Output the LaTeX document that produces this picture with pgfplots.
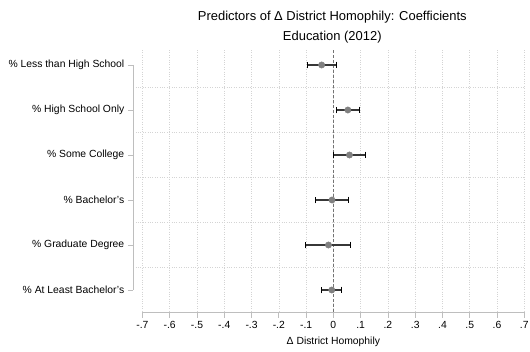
\documentclass[border=0pt]{standalone}
\usepackage{pgfplots}
\usepackage{pgfplotstable}
\pgfplotsset{compat=1.18}
\usepackage{fontspec}
\setmainfont{Liberation Sans}

\definecolor{axisgray}{RGB}{190,190,190}
\definecolor{gridgray}{RGB}{212,212,212}
\definecolor{markgray}{RGB}{128,128,128}
\definecolor{bargray}{RGB}{55,55,55}

% coefficient estimates with 95% confidence bounds (row 0 = top)
\pgfplotstableread{
row  est     lo      hi
0   -0.043  -0.094   0.010
1    0.053   0.012   0.096
2    0.059  -0.001   0.118
3   -0.005  -0.066   0.056
4   -0.018  -0.103   0.063
5   -0.006  -0.043   0.031
}\coefs

\pgfplotstablecreatecol[expr={\thisrow{hi}-\thisrow{est}}]{ep}{\coefs}
\pgfplotstablecreatecol[expr={\thisrow{est}-\thisrow{lo}}]{em}{\coefs}

\begin{document}
\begin{tikzpicture}[x=1bp,y=1bp]
\useasboundingbox (-133.3,-39) rectangle (396.7,312);
\begin{axis}[
  scale only axis,
  width=391bp, height=262bp,
  xmin=-0.7335, xmax=0.7,
  ymin=-0.333, ymax=5.489,
  y dir=reverse,
  axis line style={draw=none},
  xtick={-0.7,-0.6,...,0.71},
  xticklabels={-.7,-.6,-.5,-.4,-.3,-.2,-.1,0,.1,.2,.3,.4,.5,.6,.7},
  ytick={0,1,2,3,4,5},
  yticklabels={\% Less than High School,\% High School Only,\% Some College,\% Bachelor's,\% Graduate Degree,\% At Least Bachelor's},
  minor ytick={0.5,1.5,2.5,3.5,4.5},
  xmajorgrids, yminorgrids,
  grid style={gridgray, dash pattern=on 0.7pt off 1.7pt, line width=0.6pt},
  minor grid style={gridgray, dash pattern=on 0.7pt off 1.7pt, line width=0.6pt},
  tick align=outside,
  major tick length=5.5bp,
  minor tick length=0pt,
  tick style={axisgray, line width=0.8pt},
  xtick pos=bottom, ytick pos=left,
  ticklabel style={font=\fontsize{10.4}{12}\selectfont, text=black},
  xlabel={Δ District Homophily},
  xlabel style={font=\fontsize{10.4}{12}\selectfont, at={(axis cs:0,5.489)}, anchor=center, yshift=-30bp},
  /pgf/number format/assume math mode=true,
  clip=false,
]
% axis lines spanning the tick range
\draw[axisgray, line width=0.9pt] (axis cs:-0.7,5.489) -- (axis cs:0.7,5.489);
\draw[axisgray, line width=0.9pt] (axis cs:-0.7335,0) -- (axis cs:-0.7335,5);
% zero reference line
\draw[black!55, dash pattern=on 3pt off 2pt, line width=0.7pt] (axis cs:0,-0.333) -- (axis cs:0,5.489);

\addplot[
  only marks,
  mark=*, mark size=3.2pt,
  mark options={fill=markgray, draw=markgray},
  error bars/.cd,
    x dir=both, x explicit,
    error bar style={bargray, line width=1.3pt},
    error mark options={black, line width=1pt, mark size=3.3pt, rotate=90},
] table[x=est, y=row, x error plus=ep, x error minus=em] {\coefs};
\end{axis}
\node[align=center, font=\fontsize{13}{20.5}\selectfont] at (199,285) {Predictors of Δ District Homophily: Coefficients\\Education (2012)};
\end{tikzpicture}
\end{document}
